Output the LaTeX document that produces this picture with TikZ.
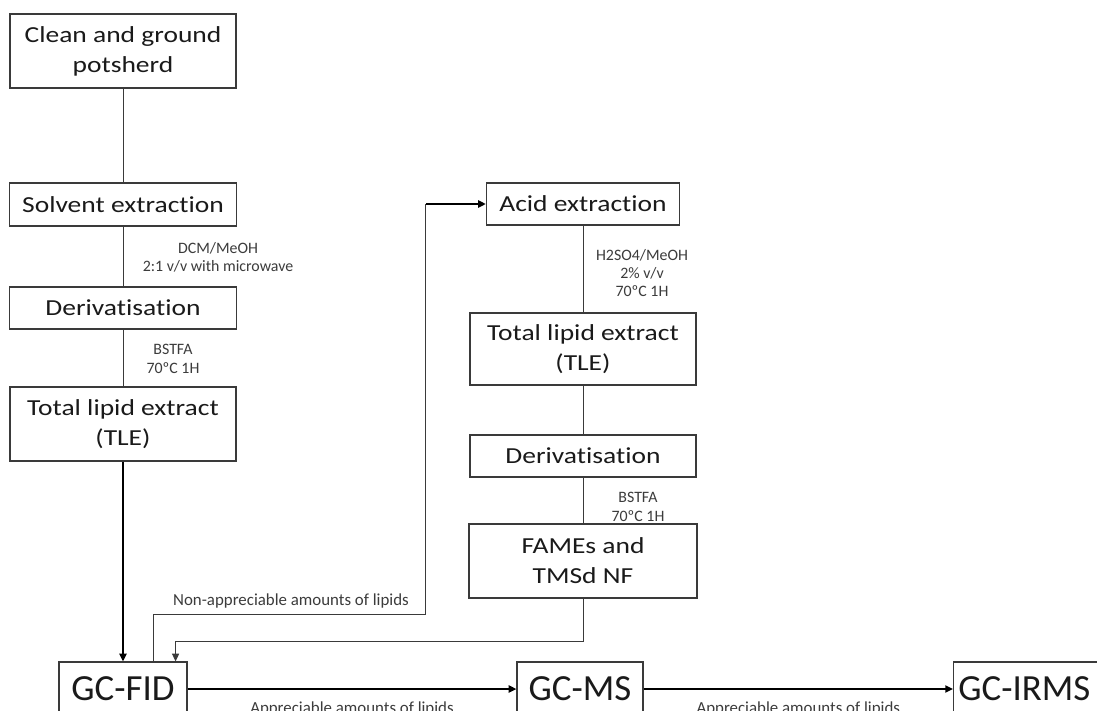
\documentclass[tikz,border=0pt]{standalone}
\usepackage{fontspec}
\setmainfont{Carlito}[Ligatures={NoCommon}]
\newfontfamily\widefont[FakeStretch=1.2,Ligatures={NoCommon}]{Carlito}
\usetikzlibrary{arrows.meta,calc}
\definecolor{Edge}{HTML}{3A3A3A}
\definecolor{Ink}{HTML}{1A1A1A}

\begin{document}
\begin{tikzpicture}[x=0.025cm,y=-0.025cm,
    stepbox/.style={draw=Edge,line width=0.8pt,align=center,inner sep=0pt,text=Ink,font=\widefont\fontsize{16.3}{21.3}\selectfont},
    gcbox/.style={draw=Edge,line width=0.8pt,inner sep=0pt,minimum height=1.35cm,text=Ink,font=\fontsize{26.2}{30}\selectfont},
    cond/.style={align=center,inner sep=0pt,text=Ink!85,font=\fontsize{11.3}{13}\selectfont},
    lbl/.style={inner sep=0pt,text=Ink!85,font=\fontsize{12}{14}\selectfont},
    link/.style={draw=Edge,line width=0.7pt},
    flow/.style={draw=black,line width=1.4pt,-{Triangle[length=5.5pt,width=5pt]}}]
  \useasboundingbox (0,0) rectangle (1097,710);
  \clip (0,0) rectangle (1097,710);
  \fill[white] (0,0) rectangle (1097,710);

  % solvent route
  \node[stepbox,minimum width=5.65cm,minimum height=1.85cm] (clean) at (123,51) {Clean and ground\\potsherd};
  \node[stepbox,minimum width=5.675cm,minimum height=1.075cm] (solvent) at (123,204.5) {Solvent extraction};
  \node[stepbox,minimum width=5.675cm,minimum height=1.05cm] (deriv) at (123,308) {Derivatisation};
  \node[stepbox,minimum width=5.65cm,minimum height=1.85cm] (tle) at (123,424) {Total lipid extract\\(TLE)};
  \node[cond] (solventcond) at (218,257) {DCM/MeOH\\2:1 v/v with microwave};
  \node[cond] (derivcond) at (173,359) {BSTFA\\70ºC 1H};

  % acid route
  \node[stepbox,minimum width=4.825cm,minimum height=1.05cm] (acid) at (583,204) {Acid extraction};
  \node[stepbox,minimum width=5.65cm,minimum height=1.8cm] (tleacid) at (583,349) {Total lipid extract\\(TLE)};
  \node[stepbox,minimum width=5.65cm,minimum height=1.05cm] (derivacid) at (583,456) {Derivatisation};
  \node[stepbox,minimum width=5.7cm,minimum height=1.85cm] (fames) at (583,561) {FAMEs and\\TMSd NF};
  \node[cond] (acidcond) at (642,273) {H2SO4/MeOH\\2\% v/v\\70ºC 1H};
  \node[cond] (derivacidcond) at (638,507) {BSTFA\\70ºC 1H};

  % instruments
  \node[gcbox,minimum width=3.2cm] (gcfid) at (123,689) {GC-FID};
  \node[gcbox,minimum width=3.15cm] (gcms) at (580,689) {GC-MS};
  \node[gcbox,anchor=west,text width=3.9cm,align=left,inner xsep=3.5pt] (gcirms) at (953,689) {GC-IRMS};
  \node[lbl] (nolipids) at (291,601) {Non-appreciable amounts of lipids};

  \draw[link] (clean) -- (solvent);
  \draw[link] (solvent) -- (deriv);
  \draw[link] (deriv) -- (tle);
  \draw[flow] (tle) -- (gcfid);
  \draw[link] (acid) -- (tleacid);
  \draw[link] (tleacid) -- (derivacid);
  \draw[link] (derivacid) -- (fames);
  \draw[link,-{Triangle[length=5.5pt,width=5pt]}] (fames.south) -- ++(0,43) -| ($(gcfid.north east)+(-12,0)$);
  \coordinate (retry) at ($(acid.west)+(-60,0)$);
  \draw[link] ($(gcfid.north west)+(95,0)$) -- ++(0,-47) -| (retry);
  \draw[flow] (retry) -- (acid.west);
  \draw[flow] (gcfid) -- node[lbl,below=8.5pt] {Appreciable amounts of lipids} (gcms);
  \draw[flow] (gcms) -- node[lbl,below=8.5pt] {Appreciable amounts of lipids} (gcirms);
\end{tikzpicture}
\end{document}
